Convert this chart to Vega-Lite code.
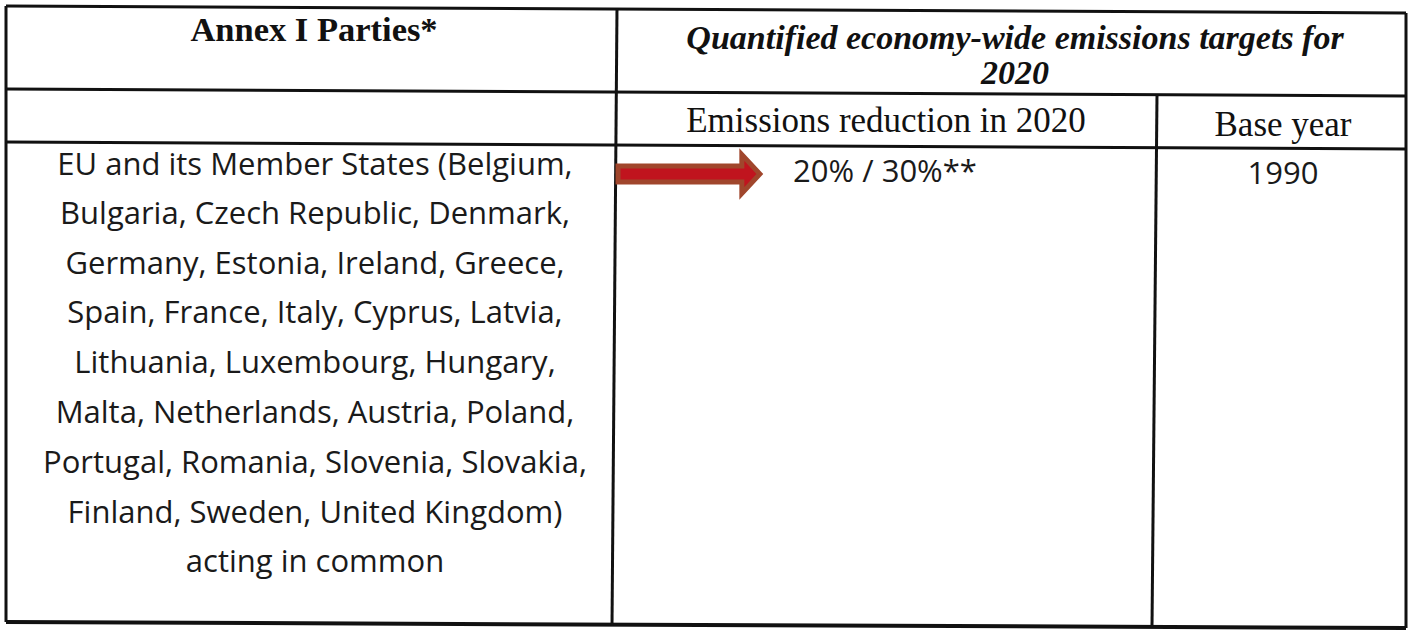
{
  "$schema": "https://vega.github.io/schema/vega-lite/v6.json",
  "width": 1410,
  "height": 632,
  "padding": 0,
  "autosize": {"type": "fit", "contains": "padding"},
  "background": "white",
  "config": {"view": {"stroke": null}},
  "layer": [
    {
      "data": {"values": [
        {"x": 6, "y": 6, "x2": 1406, "y2": 13, "w": 3},
        {"x": 6, "y": 89, "x2": 1406, "y2": 96, "w": 3},
        {"x": 6, "y": 142, "x2": 1406, "y2": 149, "w": 3},
        {"x": 6, "y": 622, "x2": 1406, "y2": 628, "w": 4},
        {"x": 6, "y": 6, "x2": 6, "y2": 622, "w": 3},
        {"x": 617, "y": 8, "x2": 612, "y2": 626, "w": 3},
        {"x": 1157, "y": 95, "x2": 1152, "y2": 627, "w": 3},
        {"x": 1406, "y": 13, "x2": 1406, "y2": 628, "w": 3}
      ]},
      "mark": {"type": "rule", "color": "#111111"},
      "encoding": {
        "x": {"field": "x", "type": "quantitative", "scale": {"domain": [0, 1410], "nice": false, "zero": false}, "axis": null},
        "y": {"field": "y", "type": "quantitative", "scale": {"domain": [0, 632], "nice": false, "zero": false, "reverse": true}, "axis": null},
        "x2": {"field": "x2"},
        "y2": {"field": "y2"},
        "strokeWidth": {"field": "w", "type": "quantitative", "scale": null, "legend": null}
      }
    },
    {
      "data": {"values": [{"x": 690, "y": 174}]},
      "mark": {"type": "point", "filled": true, "shape": "M -1 -0.11 L 0.72 -0.11 L 0.72 -0.27 L 0.97 0 L 0.72 0.27 L 0.72 0.11 L -1 0.11 Z", "size": 20736, "fill": "#c0141e", "stroke": "#a0462c", "strokeWidth": 5, "opacity": 1, "strokeJoin": "miter"},
      "encoding": {
        "x": {"field": "x", "type": "quantitative"},
        "y": {"field": "y", "type": "quantitative"}
      }
    },
    {
      "data": {"values": [{"x": 314, "y": 31, "t": "Annex I Parties*"}]},
      "mark": {"type": "text", "font": "Liberation Serif", "fontWeight": "bold", "fontSize": 34.5, "align": "center", "baseline": "middle", "color": "#111111"},
      "encoding": {
        "x": {"field": "x", "type": "quantitative"},
        "y": {"field": "y", "type": "quantitative"},
        "text": {"field": "t"}
      }
    },
    {
      "data": {"values": [
        {"x": 1015, "y": 39, "t": "Quantified economy-wide emissions targets for"},
        {"x": 1015, "y": 74, "t": "2020"}
      ]},
      "mark": {"type": "text", "font": "Liberation Serif", "fontWeight": "bold", "fontStyle": "italic", "fontSize": 34, "align": "center", "baseline": "middle", "color": "#111111"},
      "encoding": {
        "x": {"field": "x", "type": "quantitative"},
        "y": {"field": "y", "type": "quantitative"},
        "text": {"field": "t"}
      }
    },
    {
      "data": {"values": [
        {"x": 886, "y": 121, "t": "Emissions reduction in 2020"},
        {"x": 1283, "y": 125, "t": "Base year"}
      ]},
      "mark": {"type": "text", "font": "Liberation Serif", "fontSize": 35, "align": "center", "baseline": "middle", "color": "#111111"},
      "encoding": {
        "x": {"field": "x", "type": "quantitative"},
        "y": {"field": "y", "type": "quantitative"},
        "text": {"field": "t"}
      }
    },
    {
      "data": {"values": [
        {"x": 885, "y": 173, "t": "20% / 30%**"},
        {"x": 1283, "y": 175, "t": "1990"},
        {"x": 315, "y": 166, "t": "EU and its Member States (Belgium,"},
        {"x": 315, "y": 215, "t": "Bulgaria, Czech Republic, Denmark,"},
        {"x": 315, "y": 265, "t": "Germany, Estonia, Ireland, Greece,"},
        {"x": 315, "y": 314, "t": "Spain, France, Italy, Cyprus, Latvia,"},
        {"x": 315, "y": 364, "t": "Lithuania, Luxembourg, Hungary,"},
        {"x": 315, "y": 414, "t": "Malta, Netherlands, Austria, Poland,"},
        {"x": 315, "y": 464, "t": "Portugal, Romania, Slovenia, Slovakia,"},
        {"x": 315, "y": 514, "t": "Finland, Sweden, United Kingdom)"},
        {"x": 315, "y": 563, "t": "acting in common"}
      ]},
      "mark": {"type": "text", "font": "Open Sans", "fontSize": 31, "align": "center", "baseline": "middle", "color": "#1a1a1a"},
      "encoding": {
        "x": {"field": "x", "type": "quantitative"},
        "y": {"field": "y", "type": "quantitative"},
        "text": {"field": "t"}
      }
    }
  ]
}
